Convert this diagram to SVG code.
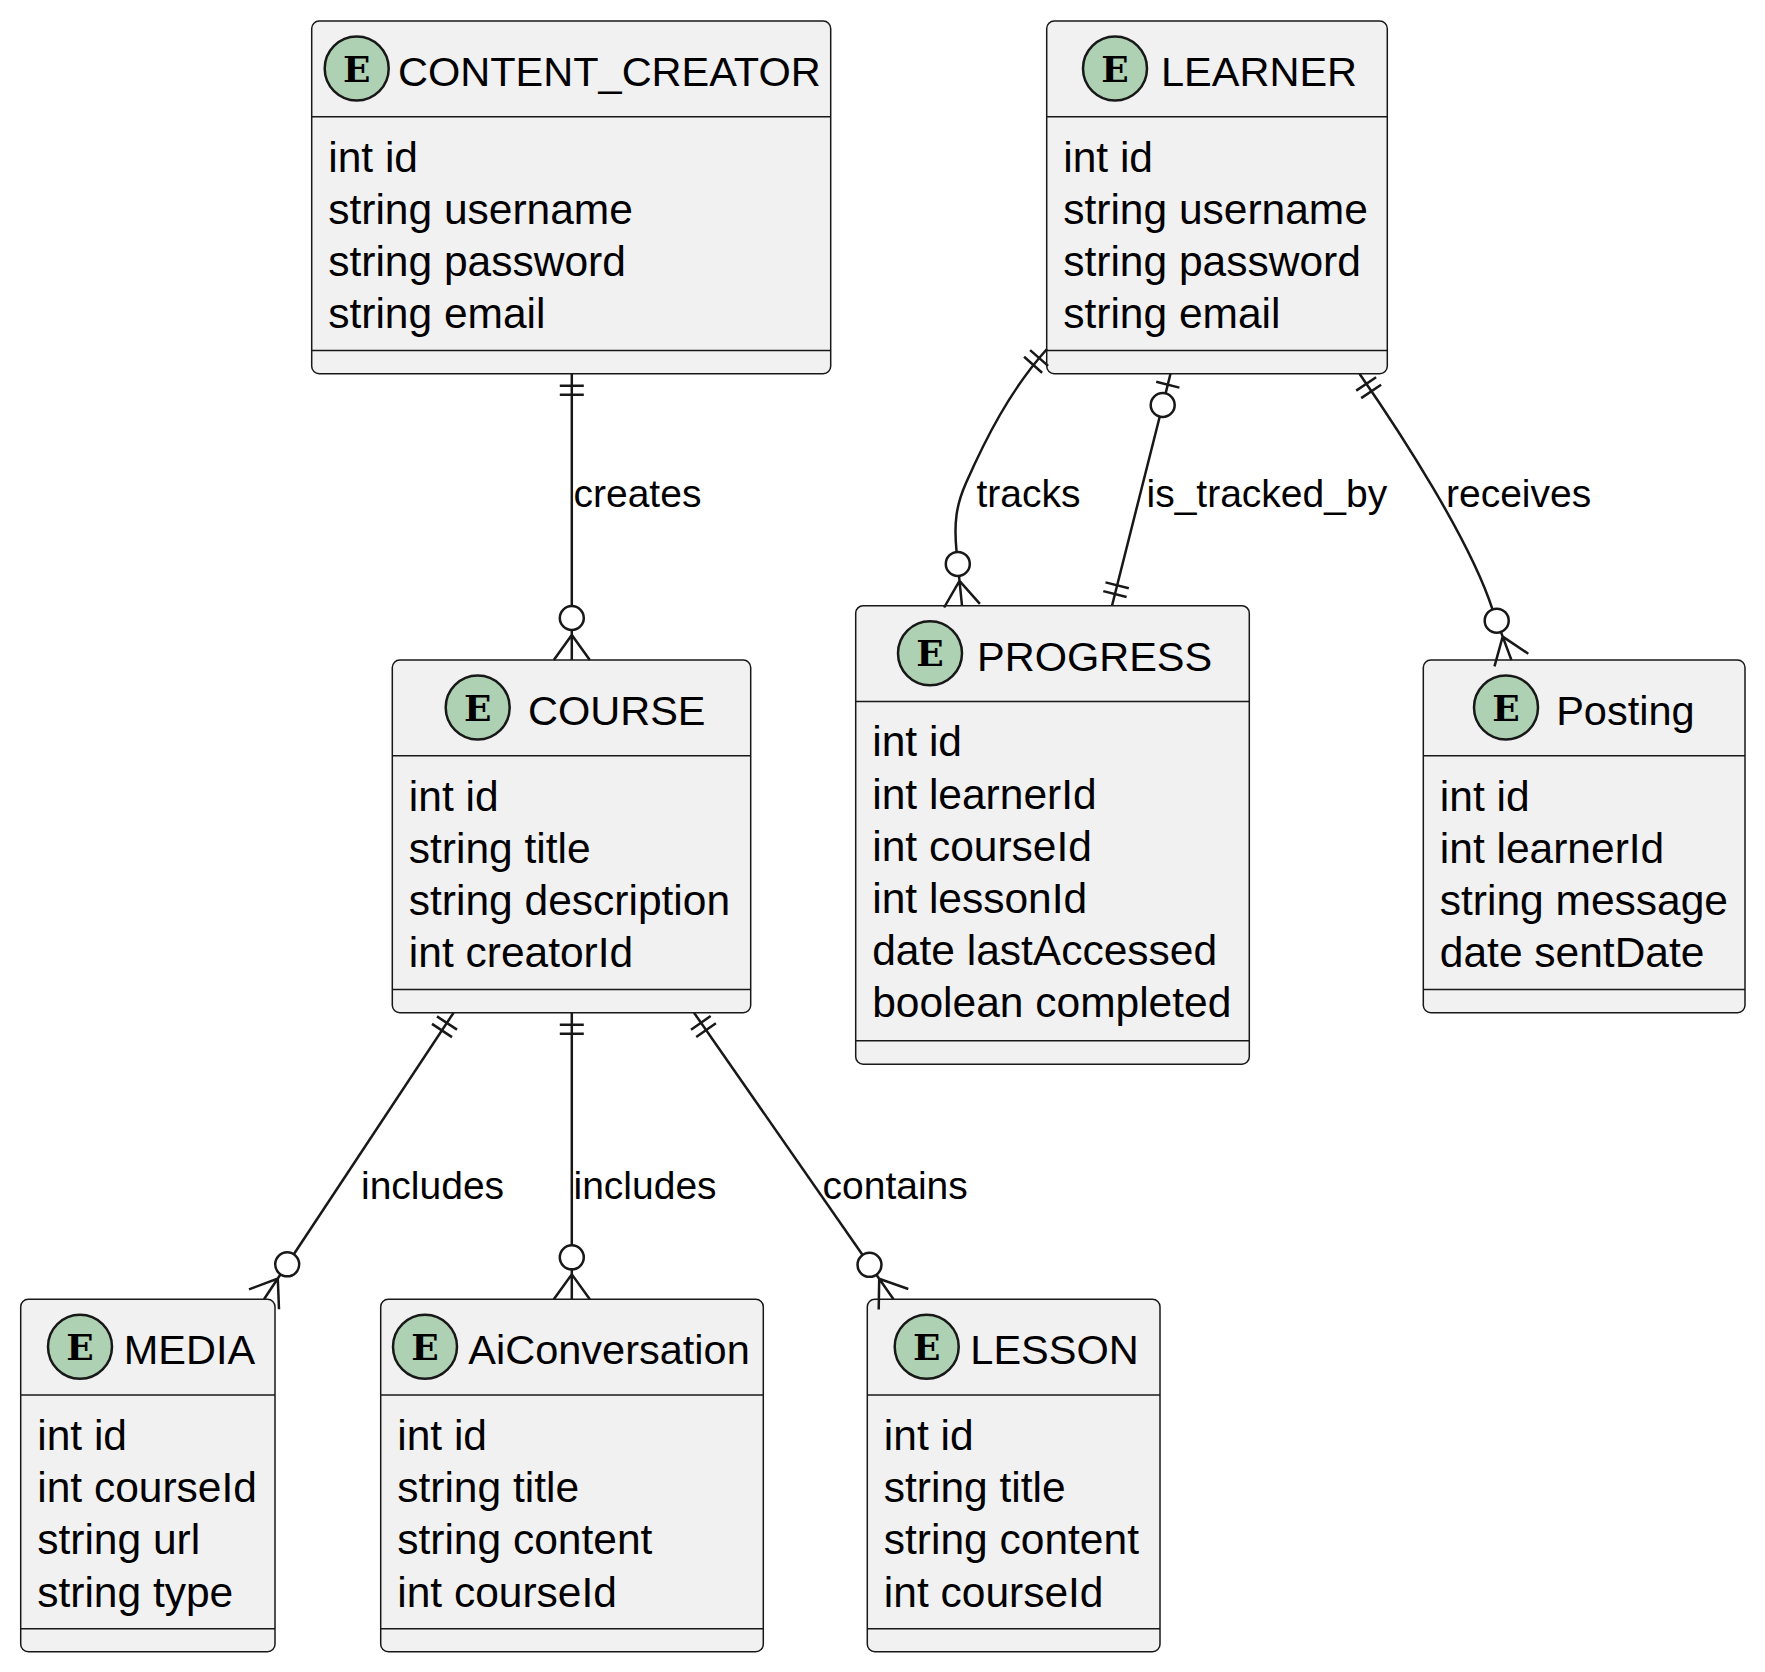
<svg xmlns="http://www.w3.org/2000/svg" width="1765" height="1672" viewBox="0 0 1765 1672">
<style>
.box{fill:#F1F1F1;stroke:#181818;stroke-width:1.5}
.sep{stroke:#181818;stroke-width:1.5}
.badge{fill:#ADD1B2;stroke:#181818;stroke-width:2.5}
.glyph{font-family:"DejaVu Serif","Liberation Serif",serif;font-weight:bold;font-size:36px;fill:#000000;text-anchor:middle}
.title{font-family:"Liberation Sans",Arial,sans-serif;font-size:41.5px;fill:#000000}
.attr{font-family:"Liberation Sans",Arial,sans-serif;font-size:42.5px;fill:#000000}
.lbl{font-family:"Liberation Sans",Arial,sans-serif;font-size:39px;fill:#000000}
.ln{fill:none;stroke:#181818;stroke-width:2.5}
</style>
<rect width="1765" height="1672" fill="#FFFFFF"/>

<g id="CONTENT_CREATOR">
<rect class="box" x="311.7" y="21" width="519" height="352.7" rx="7.5"/>
<line class="sep" x1="311.7" y1="116.7" x2="830.7" y2="116.7"/>
<line class="sep" x1="311.7" y1="350.5" x2="830.7" y2="350.5"/>
<circle class="badge" cx="356.7" cy="68.5" r="32"/>
<text class="glyph" x="356.7" y="81.5">E</text>
<text class="title" x="398" y="86">CONTENT_CREATOR</text>
<text class="attr" x="328.2" y="171.7">int id</text>
<text class="attr" x="328.2" y="223.9">string username</text>
<text class="attr" x="328.2" y="276.1">string password</text>
<text class="attr" x="328.2" y="328.3">string email</text>
</g>

<g id="LEARNER">
<rect class="box" x="1046.7" y="21" width="340.6" height="352.7" rx="7.5"/>
<line class="sep" x1="1046.7" y1="116.7" x2="1387.3" y2="116.7"/>
<line class="sep" x1="1046.7" y1="350.5" x2="1387.3" y2="350.5"/>
<circle class="badge" cx="1115" cy="68.5" r="32"/>
<text class="glyph" x="1115" y="81.5">E</text>
<text class="title" x="1161" y="86">LEARNER</text>
<text class="attr" x="1063.2" y="171.7">int id</text>
<text class="attr" x="1063.2" y="223.9">string username</text>
<text class="attr" x="1063.2" y="276.1">string password</text>
<text class="attr" x="1063.2" y="328.3">string email</text>
</g>

<g id="COURSE">
<rect class="box" x="392.3" y="660" width="358.4" height="352.7" rx="7.5"/>
<line class="sep" x1="392.3" y1="755.7" x2="750.7" y2="755.7"/>
<line class="sep" x1="392.3" y1="989.5" x2="750.7" y2="989.5"/>
<circle class="badge" cx="477.7" cy="707.5" r="32"/>
<text class="glyph" x="477.7" y="720.5">E</text>
<text class="title" x="528" y="725">COURSE</text>
<text class="attr" x="408.8" y="810.7">int id</text>
<text class="attr" x="408.8" y="862.9">string title</text>
<text class="attr" x="408.8" y="915.1">string description</text>
<text class="attr" x="408.8" y="967.3">int creatorId</text>
</g>

<g id="PROGRESS">
<rect class="box" x="855.7" y="605.7" width="393.6" height="458.5" rx="7.5"/>
<line class="sep" x1="855.7" y1="701.4" x2="1249.3" y2="701.4"/>
<line class="sep" x1="855.7" y1="1040.7" x2="1249.3" y2="1040.7"/>
<circle class="badge" cx="930" cy="653.2" r="32"/>
<text class="glyph" x="930" y="666.2">E</text>
<text class="title" x="977" y="670.7">PROGRESS</text>
<text class="attr" x="872.2" y="756.4">int id</text>
<text class="attr" x="872.2" y="808.6">int learnerId</text>
<text class="attr" x="872.2" y="860.8">int courseId</text>
<text class="attr" x="872.2" y="913.0">int lessonId</text>
<text class="attr" x="872.2" y="965.2">date lastAccessed</text>
<text class="attr" x="872.2" y="1017.4">boolean completed</text>
</g>

<g id="Posting">
<rect class="box" x="1423.3" y="660" width="321.7" height="352.7" rx="7.5"/>
<line class="sep" x1="1423.3" y1="755.7" x2="1745" y2="755.7"/>
<line class="sep" x1="1423.3" y1="989.5" x2="1745" y2="989.5"/>
<circle class="badge" cx="1506" cy="707.5" r="32"/>
<text class="glyph" x="1506" y="720.5">E</text>
<text class="title" x="1556.2" y="725">Posting</text>
<text class="attr" x="1439.8" y="810.7">int id</text>
<text class="attr" x="1439.8" y="862.9">int learnerId</text>
<text class="attr" x="1439.8" y="915.1">string message</text>
<text class="attr" x="1439.8" y="967.3">date sentDate</text>
</g>

<g id="MEDIA">
<rect class="box" x="20.7" y="1299.3" width="254.3" height="352.4" rx="7.5"/>
<line class="sep" x1="20.7" y1="1395" x2="275" y2="1395"/>
<line class="sep" x1="20.7" y1="1628.8" x2="275" y2="1628.8"/>
<circle class="badge" cx="80" cy="1346.8" r="32"/>
<text class="glyph" x="80" y="1359.8">E</text>
<text class="title" x="123.7" y="1364.3">MEDIA</text>
<text class="attr" x="37.2" y="1450">int id</text>
<text class="attr" x="37.2" y="1502.2">int courseId</text>
<text class="attr" x="37.2" y="1554.4">string url</text>
<text class="attr" x="37.2" y="1606.6">string type</text>
</g>

<g id="AiConversation">
<rect class="box" x="380.7" y="1299.3" width="382.6" height="352.4" rx="7.5"/>
<line class="sep" x1="380.7" y1="1395" x2="763.3" y2="1395"/>
<line class="sep" x1="380.7" y1="1628.8" x2="763.3" y2="1628.8"/>
<circle class="badge" cx="425" cy="1346.8" r="32"/>
<text class="glyph" x="425" y="1359.8">E</text>
<text class="title" x="468.3" y="1364.3">AiConversation</text>
<text class="attr" x="397.2" y="1450">int id</text>
<text class="attr" x="397.2" y="1502.2">string title</text>
<text class="attr" x="397.2" y="1554.4">string content</text>
<text class="attr" x="397.2" y="1606.6">int courseId</text>
</g>

<g id="LESSON">
<rect class="box" x="867.3" y="1299.3" width="292.7" height="352.4" rx="7.5"/>
<line class="sep" x1="867.3" y1="1395" x2="1160" y2="1395"/>
<line class="sep" x1="867.3" y1="1628.8" x2="1160" y2="1628.8"/>
<circle class="badge" cx="926.7" cy="1346.8" r="32"/>
<text class="glyph" x="926.7" y="1359.8">E</text>
<text class="title" x="970.3" y="1364.3">LESSON</text>
<text class="attr" x="883.8" y="1450">int id</text>
<text class="attr" x="883.8" y="1502.2">string title</text>
<text class="attr" x="883.8" y="1554.4">string content</text>
<text class="attr" x="883.8" y="1606.6">int courseId</text>
</g>

<g id="connectors">
<!-- creates -->
<path class="ln" d="M571.8,373.7 L571.8,606"/>
<path class="ln" d="M559.8,385.7 L583.8,385.7 M559.8,394.7 L583.8,394.7"/>
<circle class="ln" cx="571.8" cy="618" r="12"/>
<path class="ln" d="M571.8,630 L571.8,660 M553.8,660 L571.8,635 L589.8,660"/>
<text class="lbl" x="573.5" y="506.5">creates</text>

<!-- includes MEDIA -->
<path class="ln" d="M453.6,1012.7 L293.8,1254.3"/>
<path class="ln" d="M437,1016.4 L457,1029.6 M432,1023.9 L452,1037.1"/>
<circle class="ln" cx="287.2" cy="1264.3" r="12"/>
<path class="ln" d="M280.6,1274.3 L264,1299.3 M279,1309.2 L277.8,1278.5 L249,1289.4"/>
<text class="lbl" x="361" y="1198.5">includes</text>

<!-- includes AiConversation -->
<path class="ln" d="M571.8,1012.7 L571.8,1245.3"/>
<path class="ln" d="M559.8,1024.7 L583.8,1024.7 M559.8,1033.7 L583.8,1033.7"/>
<circle class="ln" cx="571.8" cy="1257.3" r="12"/>
<path class="ln" d="M571.8,1269.3 L571.8,1299.3 M553.8,1299.3 L571.8,1274.3 L589.8,1299.3"/>
<text class="lbl" x="573.5" y="1198.5">includes</text>

<!-- contains LESSON -->
<path class="ln" d="M694,1012.7 L862.6,1255"/>
<path class="ln" d="M691,1029.7 L710.7,1016 M696.2,1037.1 L715.9,1023.3"/>
<circle class="ln" cx="869.5" cy="1264.8" r="12"/>
<path class="ln" d="M876.4,1274.7 L893.5,1299.3 M908.3,1289 L879.2,1278.8 L878.7,1309.6"/>
<text class="lbl" x="822.5" y="1198.5">contains</text>

<!-- tracks -->
<path class="ln" d="M1047,349 C1010,390 985,440 966,483 C956.5,504.5 953.6,522 956.6,552"/>
<path class="ln" d="M1030.1,350.1 L1048.1,365.9 M1024.1,356.8 L1042.1,372.7"/>
<circle class="ln" cx="957.8" cy="563.9" r="12"/>
<path class="ln" d="M959,575.9 L962,605.7 M944.1,607.5 L959.5,580.8 L979.9,603.9"/>
<text class="lbl" x="976.5" y="506.5">tracks</text>

<!-- is_tracked_by -->
<path class="ln" d="M1170.5,373.7 L1165.6,393.4 M1159.7,416.7 L1112,605.7"/>
<path class="ln" d="M1156.2,381.7 L1179.4,387.6"/>
<circle class="ln" cx="1162.7" cy="405" r="12"/>
<path class="ln" d="M1103.3,591.1 L1126.6,597 M1105.5,582.4 L1128.8,588.3"/>
<text class="lbl" x="1146.5" y="506.5">is_tracked_by</text>

<!-- receives -->
<path class="ln" d="M1359.5,373.7 C1400,432 1470,540 1492.5,609.4"/>
<path class="ln" d="M1356.2,390.6 L1376.1,377.3 M1361.2,398.1 L1381.1,384.8"/>
<circle class="ln" cx="1496.7" cy="620.7" r="12"/>
<path class="ln" d="M1500.9,631.9 L1511.4,660 M1494.5,666.3 L1502.7,636.6 L1528.3,653.7"/>
<text class="lbl" x="1446" y="506.5">receives</text>
</g>
</svg>
